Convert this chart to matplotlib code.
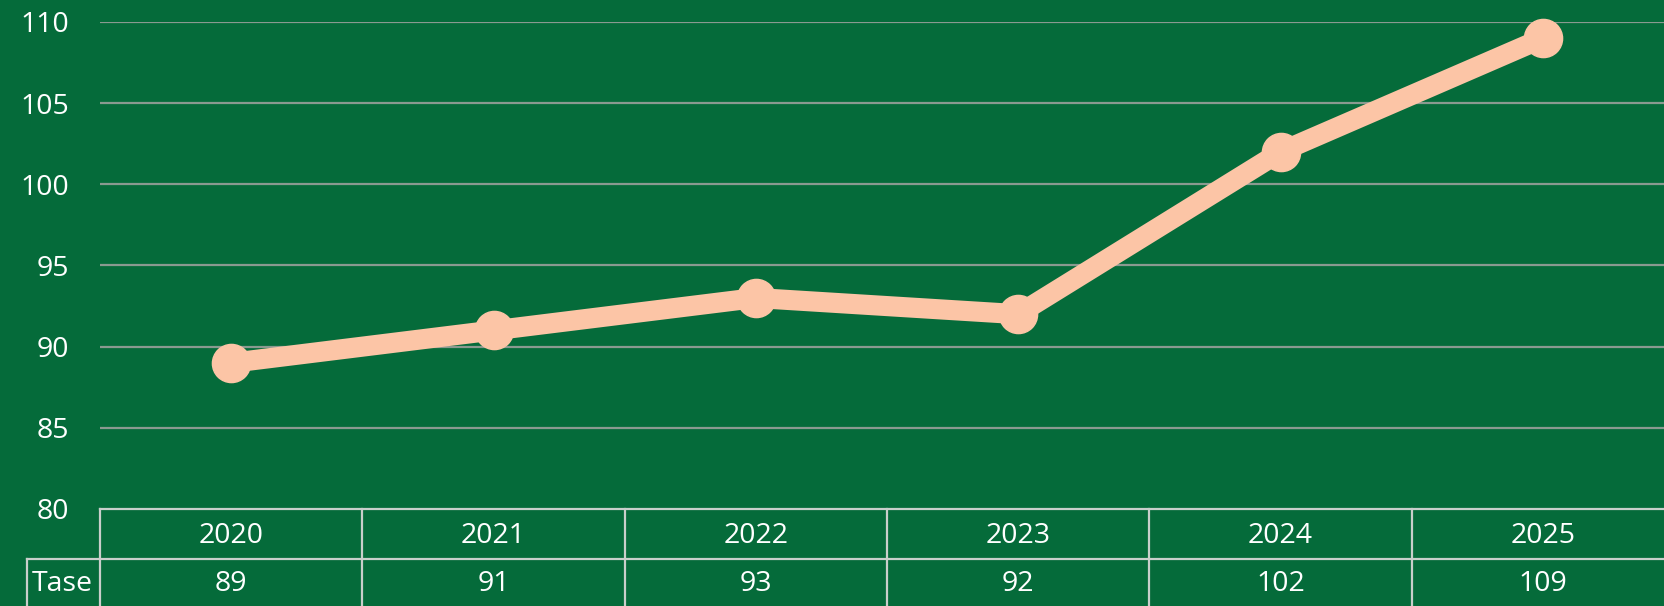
import matplotlib
matplotlib.use("Agg")
import matplotlib.pyplot as plt
import matplotlib.transforms as mtransforms
from matplotlib.lines import Line2D

years = ["2020", "2021", "2022", "2023", "2024", "2025"]
values = [89, 91, 93, 92, 102, 109]
series_name = "Tase"
yticks = [80, 85, 90, 95, 100, 105, 110]

BG = "#056b3a"
LINE = "#fcc5a6"
GRID = "#8a9a90"
TBL = "#c9cfcb"
W, H = 1664, 606
plt.rcParams['font.family'] = ['Open Sans', 'DejaVu Sans']

fig = plt.figure(figsize=(W / 100, H / 100), dpi=100, facecolor=BG)
ax_left, ax_right, ax_top, ax_bottom = 100, 1674, 22, 509
ax = fig.add_axes([ax_left / W, 1 - ax_bottom / H, (ax_right - ax_left) / W, (ax_bottom - ax_top) / H])
ax.set_facecolor(BG)
x = list(range(len(years)))
ax.set_xlim(-0.5, len(years) - 0.5)
ax.set_ylim(80, 110)
ax.set_yticks(yticks)
ax.set_yticklabels([str(t) for t in yticks], color="white", fontsize=20.5)
ax.tick_params(axis="y", length=0, pad=22)
ax.set_xticks([])
for s in ax.spines.values():
    s.set_visible(False)
for t in yticks[1:]:
    ax.axhline(t, color=GRID, lw=1.6, zorder=1)

ax.plot(x, values, color=LINE, lw=14.5, marker="o", markersize=27.5,
        solid_capstyle="round", zorder=3, clip_on=False)

# data table below the axes (figure pixel y, data x)
def fy(py):
    return 1 - py / H

tr = mtransforms.blended_transform_factory(ax.transData, fig.transFigure)
trf = fig.transFigure
row1_top, row1_bot, row2_bot = 509, 559, 609
lw = 1.6
fig.add_artist(Line2D([ax_left / W, ax_right / W], [fy(row1_top)] * 2, color=TBL, lw=lw, transform=trf))
fig.add_artist(Line2D([27 / W, ax_right / W], [fy(row1_bot)] * 2, color=TBL, lw=lw, transform=trf))
for i in range(len(years) + 1):
    xb = i - 0.5
    fig.add_artist(Line2D([xb, xb], [fy(row1_top), fy(row2_bot)], color=TBL, lw=lw, transform=tr))
fig.add_artist(Line2D([27 / W, 27 / W], [fy(row1_bot), fy(row2_bot)], color=TBL, lw=lw, transform=trf))

for i, (yr, v) in enumerate(zip(years, values)):
    fig.text(i, fy((row1_top + row1_bot) / 2 + 2), yr, transform=tr, ha="center", va="center",
             color="white", fontsize=20.5)
    fig.text(i, fy((row1_bot + row2_bot) / 2), str(v), transform=tr, ha="center", va="center",
             color="white", fontsize=20.5)
fig.text(62 / W, fy((row1_bot + row2_bot) / 2), series_name, ha="center", va="center",
         color="white", fontsize=20.5)

fig.savefig("out.png", dpi=100, facecolor=BG)
